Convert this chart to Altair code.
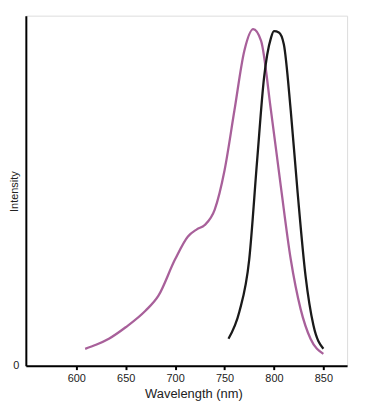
import altair as alt
import pandas as pd

ex_wl = [609, 620, 633, 650, 670, 683, 700, 713, 722, 730, 740, 750, 760, 770, 779, 787, 797, 807, 817, 827, 837, 850]
ex_val = [0.05, 0.062, 0.08, 0.114, 0.163, 0.207, 0.316, 0.384, 0.405, 0.418, 0.463, 0.58, 0.758, 0.935, 1.0, 0.965, 0.758, 0.532, 0.316, 0.168, 0.08, 0.035]
em_wl = [754, 765, 775, 783, 790, 797, 800, 805, 810, 817, 824, 832, 840, 850]
em_val = [0.08, 0.16, 0.316, 0.61, 0.856, 0.974, 0.994, 0.99, 0.955, 0.758, 0.513, 0.266, 0.119, 0.05]
x_ticks = [600, 650, 700, 750, 800, 850]

df = pd.concat([
    pd.DataFrame({"wl": ex_wl, "val": ex_val, "s": "Excitation"}),
    pd.DataFrame({"wl": em_wl, "val": em_val, "s": "Emission"}),
])

font = "Liberation Sans"
x = alt.X("wl:Q", scale=alt.Scale(domain=[549, 874], nice=False, zero=False),
          axis=alt.Axis(values=x_ticks, title="Wavelength (nm)", grid=False,
                        domainColor="black", domainWidth=2, tickColor="black", tickWidth=2, tickSize=4,
                        labelFont=font, labelFontSize=11, labelColor="#222", labelPadding=3,
                        titleFont=font, titleFontSize=13, titleFontWeight="normal", titleColor="#222",
                        titleX=169, titleY=28, titleAlign="center", titleBaseline="middle"))
y = alt.Y("val:Q", scale=alt.Scale(domain=[0, 1.04], nice=False),
          axis=alt.Axis(values=[0], title="Intensity", grid=False, ticks=False,
                        domainColor="black", domainWidth=2,
                        labelFont=font, labelFontSize=11, labelColor="#222", labelPadding=7,
                        titleFont=font, titleFontSize=11, titleFontWeight="normal", titleColor="#222",
                        titleX=-11, titleY=177, titleAlign="center", titleBaseline="middle"))

chart = alt.Chart(df).mark_line(strokeWidth=2.3, interpolate="monotone").encode(
    x=x, y=y,
    color=alt.Color("s:N", scale=alt.Scale(domain=["Excitation", "Emission"], range=["#A8609A", "#1a1a1a"]), legend=None),
    detail="s:N",
).properties(
    width=324, height=353,
    autosize=alt.AutoSizeParams(type="none"),
    padding={"left": 18, "top": 6, "right": 10, "bottom": 40},
).configure_view(stroke=None).configure(background="white")

chart.save("out.html", embed_options={"renderer": "svg", "actions": False})
